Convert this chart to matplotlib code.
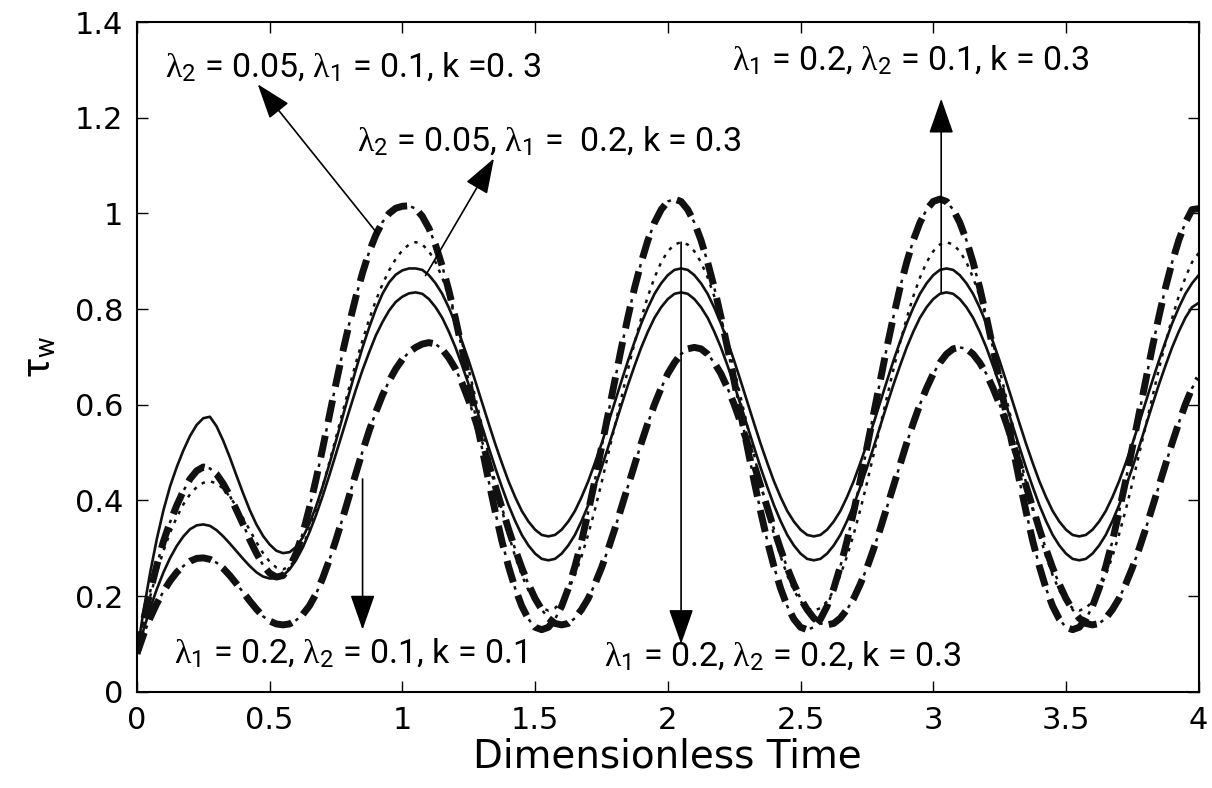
import numpy as np
import matplotlib
matplotlib.use("Agg")
import matplotlib.pyplot as plt

# dimensionless time grid (step 0.025)
t = np.linspace(0, 4, 161)

# wall shear stress, one list per curve
tau_solid_a = ([0.08, 0.17, 0.25, 0.32, 0.38, 0.43, 0.47, 0.505, 0.535, 0.558,
                0.572, 0.575, 0.555, 0.525, 0.49, 0.452, 0.415, 0.38, 0.35, 0.326,
                0.308, 0.295, 0.29, 0.292, 0.303, 0.323, 0.352, 0.388, 0.43, 0.476,
                0.525, 0.575, 0.625, 0.674, 0.72, 0.762, 0.80, 0.832, 0.856, 0.872,
                0.881, 0.885, 0.885]
               + [0.882, 0.871, 0.854, 0.832, 0.803, 0.770, 0.732, 0.692, 0.649, 0.605,
                  0.561, 0.518, 0.478, 0.440, 0.407, 0.378, 0.356, 0.339, 0.328, 0.325,
                  0.328, 0.339, 0.356, 0.378, 0.407, 0.440, 0.478, 0.518, 0.561, 0.605,
                  0.649, 0.692, 0.732, 0.770, 0.803, 0.832, 0.854, 0.871, 0.882]
               + [0.885, 0.882, 0.871, 0.854, 0.832, 0.803, 0.770, 0.732, 0.692, 0.649,
                  0.605, 0.561, 0.518, 0.478, 0.440, 0.407, 0.378, 0.356, 0.339, 0.328,
                  0.325, 0.328, 0.339, 0.356, 0.378, 0.407, 0.440, 0.478, 0.518, 0.561,
                  0.605, 0.649, 0.692, 0.732, 0.770, 0.803, 0.832, 0.854, 0.871, 0.882]
               + [0.885, 0.882, 0.871, 0.854, 0.832, 0.803, 0.770, 0.732, 0.692, 0.649,
                  0.605, 0.561, 0.518, 0.478, 0.440, 0.407, 0.378, 0.356, 0.339, 0.328,
                  0.325, 0.328, 0.339, 0.356, 0.378, 0.407, 0.440, 0.478, 0.518, 0.561,
                  0.605, 0.649, 0.692, 0.732, 0.770, 0.803, 0.832, 0.854, 0.871])
tau_solid_b = ([0.08, 0.13, 0.175, 0.215, 0.25, 0.28, 0.305, 0.325, 0.34, 0.348,
                0.35, 0.347, 0.338, 0.325, 0.31, 0.294, 0.278, 0.263, 0.25, 0.241,
                0.237, 0.237, 0.243, 0.256, 0.276, 0.302, 0.334, 0.37, 0.41, 0.453,
                0.498, 0.543, 0.588, 0.632, 0.673, 0.71, 0.745, 0.773, 0.797, 0.815,
                0.826, 0.833, 0.835]
               + [0.832, 0.821, 0.804, 0.782, 0.753, 0.720, 0.682, 0.642, 0.599, 0.555,
                  0.511, 0.468, 0.428, 0.390, 0.357, 0.328, 0.306, 0.289, 0.278, 0.275,
                  0.278, 0.289, 0.306, 0.328, 0.357, 0.390, 0.428, 0.468, 0.511, 0.555,
                  0.599, 0.642, 0.682, 0.720, 0.753, 0.782, 0.804, 0.821, 0.832]
               + [0.835, 0.832, 0.821, 0.804, 0.782, 0.753, 0.720, 0.682, 0.642, 0.599,
                  0.555, 0.511, 0.468, 0.428, 0.390, 0.357, 0.328, 0.306, 0.289, 0.278,
                  0.275, 0.278, 0.289, 0.306, 0.328, 0.357, 0.390, 0.428, 0.468, 0.511,
                  0.555, 0.599, 0.642, 0.682, 0.720, 0.753, 0.782, 0.804, 0.821, 0.832]
               + [0.835, 0.832, 0.821, 0.804, 0.782, 0.753, 0.720, 0.682, 0.642, 0.599,
                  0.555, 0.511, 0.468, 0.428, 0.390, 0.357, 0.328, 0.306, 0.289, 0.278,
                  0.275, 0.278, 0.289, 0.306, 0.328, 0.357, 0.390, 0.428, 0.468, 0.511,
                  0.555, 0.599, 0.642, 0.682, 0.720, 0.753, 0.782, 0.804, 0.813])
tau_dashed = ([0.08, 0.15, 0.21, 0.265, 0.315, 0.355, 0.39, 0.42, 0.445, 0.462,
               0.47, 0.467, 0.455, 0.435, 0.41, 0.38, 0.35, 0.318, 0.29, 0.265,
               0.248, 0.24, 0.243, 0.26, 0.29, 0.332, 0.385, 0.445, 0.51, 0.578,
               0.645, 0.71, 0.77, 0.826, 0.876, 0.92, 0.955, 0.982, 1.0, 1.011,
               1.015, 1.016]
              + [1.010, 0.994, 0.969, 0.934, 0.890, 0.839, 0.780, 0.716, 0.648, 0.578,
                 0.510, 0.441, 0.376, 0.315, 0.262, 0.216, 0.179, 0.152, 0.135, 0.130,
                 0.135, 0.152, 0.179, 0.216, 0.262, 0.315, 0.376, 0.441, 0.510, 0.580,
                 0.650, 0.719, 0.784, 0.845, 0.898, 0.944, 0.981, 1.008, 1.025]
              + [1.030, 1.025, 1.008, 0.981, 0.944, 0.898, 0.845, 0.784, 0.719, 0.650,
                 0.580, 0.510, 0.441, 0.376, 0.315, 0.262, 0.216, 0.179, 0.152, 0.135,
                 0.130, 0.135, 0.152, 0.179, 0.216, 0.262, 0.315, 0.376, 0.441, 0.510,
                 0.580, 0.650, 0.719, 0.784, 0.845, 0.898, 0.944, 0.981, 1.008, 1.025]
              + [1.030, 1.025, 1.008, 0.981, 0.944, 0.898, 0.845, 0.784, 0.719, 0.650,
                 0.580, 0.510, 0.441, 0.376, 0.315, 0.262, 0.216, 0.179, 0.152, 0.135,
                 0.130, 0.135, 0.152, 0.179, 0.216, 0.262, 0.315, 0.376, 0.441, 0.510,
                 0.580, 0.650, 0.719, 0.784, 0.845, 0.898, 0.944, 0.981, 1.008, 1.010])
tau_dotted = ([0.08, 0.145, 0.2, 0.25, 0.295, 0.333, 0.365, 0.392, 0.413, 0.428,
               0.437, 0.44, 0.436, 0.425, 0.408, 0.387, 0.363, 0.338, 0.313, 0.29,
               0.272, 0.26, 0.256, 0.262, 0.278, 0.305, 0.34, 0.383, 0.43, 0.48,
               0.532, 0.585, 0.637, 0.688, 0.735, 0.779, 0.818, 0.852, 0.881, 0.905,
               0.923, 0.935, 0.94]
              + [0.935, 0.921, 0.898, 0.866, 0.827, 0.781, 0.730, 0.674, 0.615, 0.555,
                 0.495, 0.436, 0.380, 0.329, 0.283, 0.244, 0.212, 0.189, 0.175, 0.170,
                 0.175, 0.189, 0.212, 0.244, 0.283, 0.329, 0.380, 0.436, 0.495, 0.555,
                 0.615, 0.674, 0.730, 0.781, 0.827, 0.866, 0.898, 0.921, 0.935]
              + [0.940, 0.935, 0.921, 0.898, 0.866, 0.827, 0.781, 0.730, 0.674, 0.615,
                 0.555, 0.495, 0.436, 0.380, 0.329, 0.283, 0.244, 0.212, 0.189, 0.175,
                 0.170, 0.175, 0.189, 0.212, 0.244, 0.283, 0.329, 0.380, 0.436, 0.495,
                 0.555, 0.615, 0.674, 0.730, 0.781, 0.827, 0.866, 0.898, 0.921, 0.935]
              + [0.940, 0.935, 0.921, 0.898, 0.866, 0.827, 0.781, 0.730, 0.674, 0.615,
                 0.555, 0.495, 0.436, 0.380, 0.329, 0.283, 0.244, 0.212, 0.189, 0.175,
                 0.170, 0.175, 0.189, 0.212, 0.244, 0.283, 0.329, 0.380, 0.436, 0.495,
                 0.555, 0.615, 0.674, 0.730, 0.781, 0.827, 0.866, 0.898, 0.917])
tau_dashdot = ([0.08, 0.12, 0.155, 0.185, 0.21, 0.232, 0.25, 0.263, 0.273, 0.279,
                0.28, 0.277, 0.27, 0.258, 0.243, 0.226, 0.208, 0.19, 0.173, 0.158,
                0.148, 0.142, 0.14, 0.142, 0.15, 0.162, 0.18, 0.205, 0.238, 0.276,
                0.318, 0.363, 0.41, 0.457, 0.503, 0.546, 0.585, 0.62, 0.65, 0.675,
                0.695, 0.71, 0.72, 0.727, 0.73]
               + [0.727, 0.716, 0.698, 0.675, 0.645, 0.609, 0.568, 0.524, 0.477, 0.430,
                  0.385, 0.340, 0.298, 0.259, 0.225, 0.195, 0.172, 0.154, 0.143, 0.140,
                  0.143, 0.154, 0.172, 0.195, 0.225, 0.259, 0.298, 0.340, 0.385, 0.430,
                  0.475, 0.520, 0.562, 0.601, 0.635, 0.665, 0.688, 0.706, 0.717]
               + [0.720, 0.717, 0.706, 0.688, 0.665, 0.635, 0.601, 0.562, 0.520, 0.475,
                  0.430, 0.385, 0.340, 0.298, 0.259, 0.225, 0.195, 0.172, 0.154, 0.143,
                  0.140, 0.143, 0.154, 0.172, 0.195, 0.225, 0.259, 0.298, 0.340, 0.385,
                  0.430, 0.475, 0.520, 0.562, 0.601, 0.635, 0.665, 0.688, 0.706, 0.717]
               + [0.720, 0.717, 0.706, 0.688, 0.665, 0.635, 0.601, 0.562, 0.520, 0.475,
                  0.430, 0.385, 0.340, 0.298, 0.259, 0.225, 0.195, 0.172, 0.154, 0.143,
                  0.140, 0.143, 0.154, 0.172, 0.195, 0.225, 0.259, 0.298, 0.340, 0.385,
                  0.430, 0.475, 0.520, 0.562, 0.601, 0.635, 0.655])

x_ticks = [0, 0.5, 1, 1.5, 2, 2.5, 3, 3.5, 4]
x_tick_labels = ["0", "0.5", "1", "1.5", "2", "2.5", "3", "3.5", "4"]
y_ticks = [0, 0.2, 0.4, 0.6, 0.8, 1.0, 1.2, 1.4]
y_tick_labels = ["0", "0.2", "0.4", "0.6", "0.8", "1", "1.2", "1.4"]

L = r"$\mathrm{λ}_{\mathsf{%s}}$"
# text, text position, arrow tail, arrow head
labels = [
    (L % "2" + " = 0.05, " + L % "1" + " = 0.1, k =0. 3", (0.105, 1.305), (0.91, 0.955), (0.455, 1.27)),
    (L % "2" + " = 0.05, " + L % "1" + " =  0.2, k = 0.3", (0.83, 1.15), (1.087, 0.87), (1.345, 1.115)),
    (L % "1" + " = 0.2, " + L % "2" + " = 0.1, k = 0.3", (2.24, 1.32), (3.03, 0.835), (3.03, 1.24)),
    (L % "1" + " = 0.2, " + L % "2" + " = 0.1, k = 0.1", (0.14, 0.08), (0.85, 0.445), (0.85, 0.13)),
    (L % "1" + " = 0.2, " + L % "2" + " = 0.2, k = 0.3", (1.76, 0.075), (2.05, 0.94), (2.05, 0.10)),
]

plt.rcParams["font.family"] = ["DejaVu Sans"]
plt.rcParams["mathtext.fontset"] = "custom"
plt.rcParams["mathtext.rm"] = "Liberation Serif"
plt.rcParams["mathtext.sf"] = "Roboto"
plt.rcParams["mathtext.it"] = "Liberation Serif:italic"
plt.rcParams["lines.scale_dashes"] = False

fig = plt.figure(figsize=(12.12, 7.88), dpi=100)
ax = fig.add_axes([0.113, 0.122, 0.876, 0.85])

ink = "#111111"
ax.plot(t, tau_solid_a, color=ink, lw=1.9)
ax.plot(t, tau_solid_b, color=ink, lw=1.9)
ax.plot(t, tau_dotted, color=ink, lw=1.8, dashes=(2.5, 4.5))
# thick dash with a thin dot in each gap
for tau in (tau_dashed, tau_dashdot):
    ax.plot(t, tau, color=ink, lw=5, dashes=(16, 10))
    ax.plot(t, tau, color=ink, lw=1.8, linestyle=(7, (2.5, 23.5)))

for text, pos, tail, head in labels:
    ax.text(pos[0], pos[1], text, fontsize=24.5, family=["Roboto", "DejaVu Sans"],
            ha="left", va="center")
    ax.annotate("", xy=head, xytext=tail,
                arrowprops=dict(arrowstyle="-|>,head_width=0.35,head_length=1.0",
                                color="black", lw=1.2, mutation_scale=22,
                                shrinkA=0, shrinkB=0))

ax.set_xlim(0, 4)
ax.set_ylim(0, 1.4)
ax.set_xticks(x_ticks)
ax.set_xticklabels(x_tick_labels)
ax.set_yticks(y_ticks)
ax.set_yticklabels(y_tick_labels)
ax.tick_params(direction="in", top=True, right=True, length=8, width=1, labelsize=22, pad=10)
for s in ax.spines.values():
    s.set_linewidth(1.5)
ax.set_xlabel("Dimensionless Time", fontsize=28, labelpad=2)
ax.set_ylabel(r"$\mathsf{\tau}_\mathsf{w}$", fontsize=28, labelpad=12)

fig.savefig("out.png", dpi=100)
